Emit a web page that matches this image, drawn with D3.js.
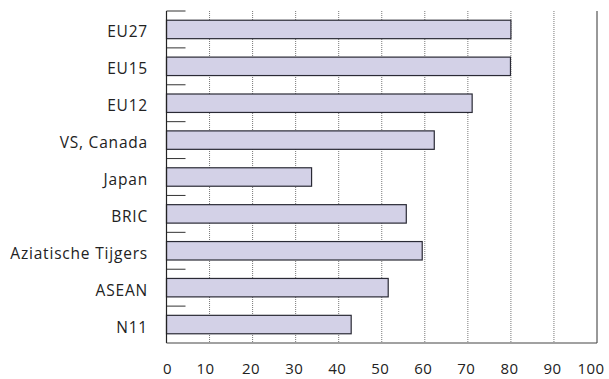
<!DOCTYPE html>
<html><head><meta charset="utf-8">
<script src="https://cdn.jsdelivr.net/npm/d3@7"></script>
<style>body{margin:0;background:#fff}svg{display:block}</style>
</head><body>
<svg id="c" width="609" height="379"></svg>
<script>
const categories = ["EU27","EU15","EU12","VS, Canada","Japan","BRIC","Aziatische Tijgers","ASEAN","N11"];
const values = [80.0, 79.9, 71.0, 62.2, 33.7, 55.7, 59.4, 51.5, 42.9];
const xTicks = [0,10,20,30,40,50,60,70,80,90,100];

const svg = d3.select("#c");
const L = 166.5, R = 597, T = 11, B = 343;
const x = d3.scaleLinear().domain([0,100]).range([L,R]);
const y = d3.scaleBand().domain(categories).range([T,B]).paddingInner(0.5).paddingOuter(0.25);
const font = "'Open Sans', sans-serif";

// grid
svg.append("g").selectAll("line").data(xTicks.filter(d=>d>0 && d<100)).join("line")
  .attr("x1",d=>x(d)).attr("x2",d=>x(d)).attr("y1",T).attr("y2",B)
  .attr("stroke","#777").attr("stroke-width",1).attr("stroke-dasharray","1,1");

// right border
svg.append("line").attr("x1",x(100)).attr("x2",x(100)).attr("y1",T).attr("y2",B)
  .attr("stroke","#333").attr("stroke-width",1);

// bars
svg.append("g").selectAll("rect").data(categories).join("rect")
  .attr("x",x(0)).attr("y",d=>y(d))
  .attr("width",(d,i)=>x(values[i])-x(0)).attr("height",y.bandwidth())
  .attr("fill","#d3d1e7").attr("stroke","#2a2a35").attr("stroke-width",1.2);

// band boundary ticks
const bounds = d3.range(categories.length).map(i=>T + i*y.step());
svg.append("g").selectAll("line").data(bounds).join("line")
  .attr("x1",L).attr("x2",L+19).attr("y1",d=>d).attr("y2",d=>d)
  .attr("stroke","#333").attr("stroke-width",1);

// axes lines
svg.append("line").attr("x1",L).attr("x2",L).attr("y1",T).attr("y2",B).attr("stroke","#222").attr("stroke-width",1.2);
svg.append("line").attr("x1",L).attr("x2",R).attr("y1",B).attr("y2",B).attr("stroke","#444").attr("stroke-width",1.2);

// category labels
svg.append("g").selectAll("text").data(categories).join("text")
  .attr("x",148).attr("y",d=>y(d)+y.bandwidth()/2+8)
  .attr("text-anchor","end").attr("font-family",font).attr("font-size",15.5)
  .attr("letter-spacing","0.8px").attr("fill","#222")
  .text(d=>d);

// x tick labels
svg.append("g").selectAll("text").data(xTicks).join("text")
  .attr("x",d=>x(d)).attr("dx",d=>d===100?-6:(d===0?1:(d===10?-4:-1.5))).attr("y",374)
  .attr("text-anchor","middle").attr("font-family",font).attr("font-size",15)
  .attr("letter-spacing","0.4px").attr("fill","#222")
  .text(d=>d);
</script>
</body></html>
